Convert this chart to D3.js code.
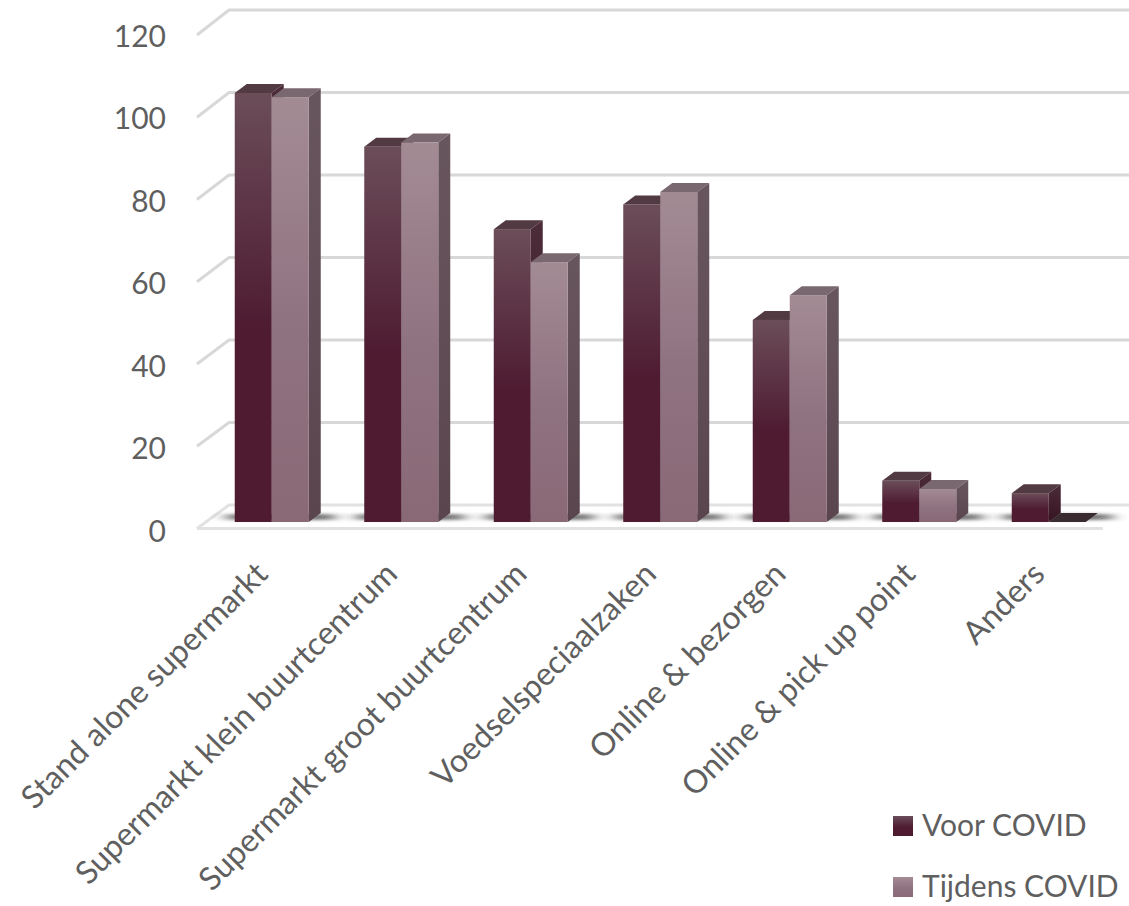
<!DOCTYPE html>
<html>
<head>
<meta charset="utf-8">
<script src="https://cdn.jsdelivr.net/npm/d3@7"></script>
<style>
  html, body { margin: 0; padding: 0; background: #fff; overflow: hidden; }
  text { font-family: Lato, "Open Sans", sans-serif; fill: #5f5f5f; }
</style>
</head>
<body>
<script>
const categories = ["Stand alone supermarkt", "Supermarkt klein buurtcentrum", "Supermarkt groot buurtcentrum",
  "Voedselspeciaalzaken", "Online & bezorgen", "Online & pick up point", "Anders"];
const seriesNames = ["Voor COVID", "Tijdens COVID"];
const voorCovid = [104, 91, 71, 77, 49, 10, 7];
const tijdensCovid = [103, 92, 63, 80, 55, 8, 0];
const yTicks = [0, 20, 40, 60, 80, 100, 120];

const width = 1129;
const height = 906;
const depthX = 12;
const depthY = 9;

const svg = d3.select("body").append("svg")
  .attr("width", width)
  .attr("height", height);
const defs = svg.append("defs");

function addGradient(id, stops) {
  const grad = defs.append("linearGradient")
    .attr("id", id)
    .attr("x1", 0).attr("x2", 0).attr("y1", 0).attr("y2", 1);
  stops.forEach(([o, c]) => grad.append("stop").attr("offset", o).attr("stop-color", c));
}
addGradient("front0", [["0%", "#6b4d59"], ["55%", "#4e1b31"], ["100%", "#4e1b31"]]);
addGradient("front1", [["0%", "#a38b94"], ["55%", "#8f7280"], ["100%", "#8a6976"]]);
addGradient("side0", [["0%", "#4d2c39"], ["100%", "#351320"]]);
addGradient("side1", [["0%", "#68565e"], ["100%", "#5a454e"]]);

defs.append("filter").attr("id", "floorBlur")
  .attr("x", "-30%").attr("width", "160%").attr("y", "-200%").attr("height", "500%")
  .append("feGaussianBlur").attr("stdDeviation", "8 1.8");
defs.append("filter").attr("id", "soft")
  .append("feGaussianBlur").attr("stdDeviation", 0.5);

const topColors = ["#523a43", "#7a6870"];
const zeroColor = "#3a2b31";

// scales: three parallel planes of the fake 3d box
const yFront = d3.scaleLinear().domain([0, 120]).range([528.5, 35]);
const yBack = d3.scaleLinear().domain([0, 120]).range([505, 10]);
const yBar = d3.scaleLinear().domain([0, 120]).range([522, 27]);
const yLabel = d3.scaleLinear().domain([0, 120]).range([530.5, 35.5]);
const wallFront = 197;
const wallBack = 229;

const x0 = d3.scaleBand().domain(categories).range([207, 1113.5]).paddingInner(0.4286).paddingOuter(0.2143);
const x1 = d3.scaleBand().domain(seriesNames).range([0, x0.bandwidth()]);

// gridlines
const grid = svg.append("g").attr("filter", "url(#soft)");
grid.selectAll("path")
  .data(yTicks)
  .join("path")
  .attr("d", v => {
    const path = d3.path();
    path.moveTo(wallFront, yFront(v));
    path.lineTo(wallBack, yBack(v));
    path.lineTo(width, yBack(v));
    return path.toString();
  })
  .attr("fill", "none")
  .attr("stroke", v => v === 0 ? "#e2e2e2" : "#d8d8d8")
  .attr("stroke-width", 3);
grid.append("path")
  .attr("d", `M${wallFront},${yFront(0)}L1103,${yFront(0)}`)
  .attr("stroke", "#e2e2e2")
  .attr("stroke-width", 3);

// floor shadow per category
svg.append("g").selectAll("rect")
  .data(categories)
  .join("rect")
  .attr("x", c => x0(c) - 8)
  .attr("y", yBar(0) - 8)
  .attr("width", x0.bandwidth() + 34)
  .attr("height", 6)
  .attr("fill", "#333")
  .attr("opacity", 0.65)
  .attr("filter", "url(#floorBlur)");

// bars
const rows = [voorCovid, tijdensCovid];
const groups = svg.append("g").selectAll("g")
  .data(categories)
  .join("g")
  .attr("transform", c => `translate(${x0(c)},0)`);

// drawn back to front so the first bar's side sits behind the second bar
seriesNames.forEach((name, s) => {
  const bar = groups.append("g");
  const left = x1(name);
  const right = left + x1.bandwidth();
  const val = (c) => rows[s][categories.indexOf(c)];

  bar.append("path")
    .attr("d", c => {
      const t = yBar(val(c));
      return `M${left},${t}L${left + depthX},${t - depthY}L${right + depthX},${t - depthY}L${right},${t}Z`;
    })
    .attr("fill", c => val(c) === 0 ? zeroColor : topColors[s]);
  bar.filter(c => val(c) > 0).append("path")
    .attr("d", c => {
      const t = yBar(val(c));
      const b = yBar(0);
      return `M${right},${t}L${right + depthX},${t - depthY}L${right + depthX},${b - depthY}L${right},${b}Z`;
    })
    .attr("fill", `url(#side${s})`);
  bar.filter(c => val(c) > 0).append("rect")
    .attr("x", left)
    .attr("y", c => yBar(val(c)))
    .attr("width", x1.bandwidth())
    .attr("height", c => yBar(0) - yBar(val(c)))
    .attr("fill", `url(#front${s})`);
});

// y axis labels
const yAxis = svg.append("g")
  .attr("transform", "translate(166,0)")
  .call(d3.axisLeft(yLabel).tickValues(yTicks).tickSize(0).tickPadding(0));
yAxis.select(".domain").remove();
yAxis.selectAll("text")
  .attr("font-size", 30)
  .style("font-family", "Lato, sans-serif")
  .attr("dy", "0.36em");

// x axis labels
const xAxis = svg.append("g")
  .attr("transform", "translate(0,548)")
  .call(d3.axisBottom(x0).tickSize(0).tickPadding(0));
xAxis.select(".domain").remove();
xAxis.selectAll("text")
  .attr("font-size", 32)
  .style("font-family", "Lato, sans-serif")
  .attr("text-anchor", "end")
  .attr("dy", "0.7em")
  .attr("transform", "translate(-18,12) rotate(-45)");

// legend
const legend = svg.append("g").selectAll("g")
  .data(seriesNames)
  .join("g")
  .attr("transform", (d, i) => `translate(893,${816 + i * 61})`);
legend.append("rect")
  .attr("width", 20).attr("height", 20)
  .attr("fill", (d, i) => `url(#front${i})`);
legend.append("text")
  .attr("x", 29).attr("y", 20)
  .attr("font-size", 30)
  .text(d => d);
</script>
</body>
</html>
